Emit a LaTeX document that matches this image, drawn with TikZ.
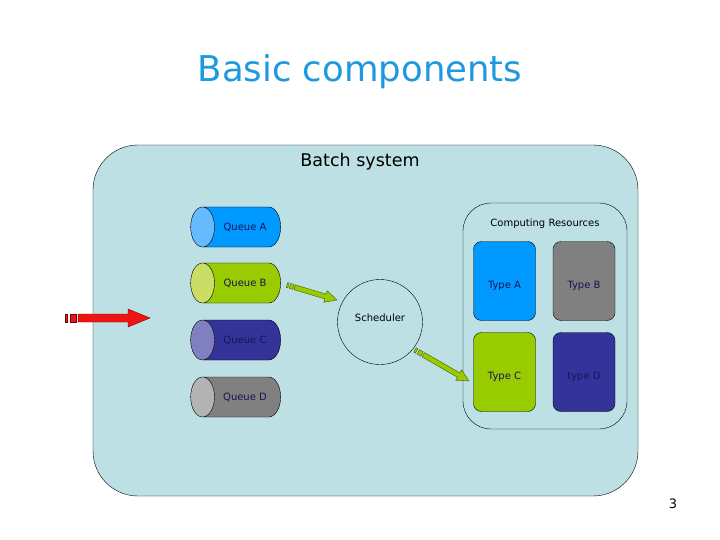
\documentclass[tikz,border=0pt]{standalone}
\usepackage{fontspec}
\setmainfont{DejaVu Sans}
\usepackage{xcolor}
\usepackage{tikz}
\usetikzlibrary{shapes.geometric,calc}

\definecolor{batchbg}{RGB}{189,224,228}
\definecolor{titleblue}{RGB}{30,152,222}
\definecolor{labelnavy}{RGB}{20,20,90}
\definecolor{resblue}{RGB}{0,153,255}
\definecolor{resgreen}{RGB}{153,204,0}
\definecolor{resnavy}{RGB}{51,51,153}
\definecolor{resgray}{RGB}{128,128,128}
\definecolor{capblue}{RGB}{102,187,255}
\definecolor{capgreen}{RGB}{204,221,102}
\definecolor{capnavy}{RGB}{128,128,192}
\definecolor{capgray}{RGB}{179,179,179}
\definecolor{arrowred}{RGB}{238,20,20}
\definecolor{arrowdark}{RGB}{120,0,0}
\definecolor{arrowolive}{RGB}{70,90,0}

\tikzset{
  queue/.style={cylinder, shape border rotate=180, aspect=1.55, draw, thin,
    minimum width=40, minimum height=90, cylinder uses custom fill,
    text=labelnavy, font=\fontsize{10}{12}\selectfont},
  restype/.style={draw, rounded corners=8, minimum width=62, minimum height=79,
    text height=15, text depth=0, text=labelnavy, font=\fontsize{10}{12}\selectfont},
  small/.style={font=\fontsize{10}{12}\selectfont},
  pics/stripearrow/.style args={#1/#2/#3/#4}{code={
    \filldraw (0,-#2) rectangle (0.03*#1,#2);
    \filldraw (0.06*#1,-#2) rectangle (0.13*#1,#2);
    \filldraw (0.155*#1,-#2) -- (#1-#4,-#2) -- (#1-#4,-#3) -- (#1,0)
      -- (#1-#4,#3) -- (#1-#4,#2) -- (0.155*#1,#2) -- cycle;
  }}
}

\begin{document}
\begin{tikzpicture}[x=1pt,y=-1pt]
  \useasboundingbox (0,0) rectangle (720,540);
  \node[text=titleblue, font=\fontsize{35.5}{40}\selectfont] (title) at (360,72) {Basic components};
  \draw[fill=batchbg, rounded corners=45] (93,145) rectangle (638,496);
  \node[font=\fontsize{17.5}{20}\selectfont] (batch) at (360,162) {Batch system};

  \draw[rounded corners=28] (463,203) rectangle (627,429);
  \node[small] (comp) at (545,224) {Computing Resources};
  \node[restype, fill=resblue] (ta) at (504.5,281) {Type A};
  \node[restype, fill=resgray] (tb) at (584,281) {Type B};
  \node[restype, fill=resgreen] (tc) at (504.5,372) {Type C};
  \node[restype, fill=resnavy] (td) at (584,372) {type D};

  \node[queue, cylinder body fill=resblue, cylinder end fill=capblue] (qa) at (245,227) {Queue A};
  \node[queue, cylinder body fill=resgreen, cylinder end fill=capgreen] (qb) at (245,283) {Queue B};
  \node[queue, cylinder body fill=resnavy, cylinder end fill=capnavy] (qc) at (245,340) {Queue C};
  \node[queue, cylinder body fill=resgray, cylinder end fill=capgray] (qd) at (245,397) {Queue D};

  \node[draw, circle, minimum size=85, small] (sched) at (380,322) {};
  \node[small] (schedtext) at (380,318) {Scheduler};

  \coordinate (in1) at (65,318);
  \coordinate (in2) at (150,318);
  \coordinate (qs1) at (287,285);
  \coordinate (qs2) at (337,300);
  \coordinate (sr1) at (415,350);
  \coordinate (sr2) at (469,381);

  \path let \p1=($(in2)-(in1)$), \n1={atan2(\y1,\x1)}, \n2={veclen(\x1,\y1)} in
    (in1) pic[rotate=\n1, fill=arrowred, draw=arrowdark]{stripearrow={\n2/4/9/22}};
  \path let \p1=($(qs2)-(qs1)$), \n1={atan2(\y1,\x1)}, \n2={veclen(\x1,\y1)} in
    (qs1) pic[rotate=\n1, fill=resgreen, draw=arrowolive]{stripearrow={\n2/2.5/6/12}};
  \path let \p1=($(sr2)-(sr1)$), \n1={atan2(\y1,\x1)}, \n2={veclen(\x1,\y1)} in
    (sr1) pic[rotate=\n1, fill=resgreen, draw=arrowolive]{stripearrow={\n2/2.5/6/12}};

  \node[font=\fontsize{13}{15}\selectfont] (page) at (673,504) {3};
\end{tikzpicture}
\end{document}
